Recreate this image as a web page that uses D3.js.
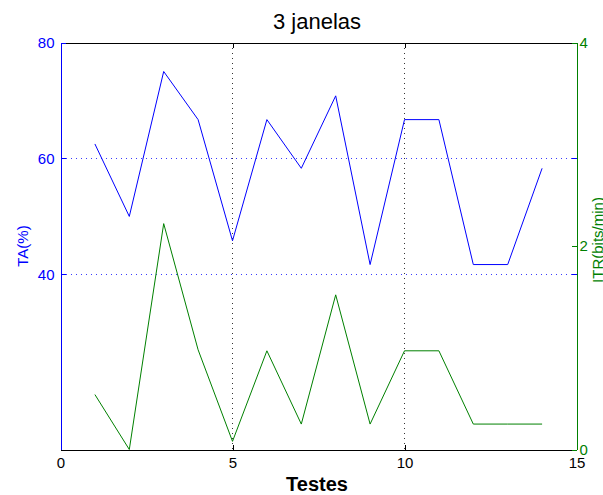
<!DOCTYPE html>
<html>
<head>
<meta charset="utf-8">
<script src="https://cdn.jsdelivr.net/npm/d3@7"></script>
<style>
  body { margin: 0; background: #fff; }
  svg { display: block; font-family: "Liberation Sans", Arial, sans-serif; }
</style>
</head>
<body>
<main></main>
<script>
// Data
var testes = [1, 2, 3, 4, 5, 6, 7, 8, 9, 10, 11, 12, 13, 14];
var ta = [62.5, 50, 75, 66.7, 45.8, 66.7, 58.3, 70.8, 41.7, 66.7, 66.7, 41.7, 41.7, 58.3];
var itr = [0.54, 0, 2.22, 0.98, 0.08, 0.97, 0.25, 1.52, 0.25, 0.97, 0.97, 0.25, 0.25, 0.25];
var xTicks = [0, 5, 10, 15],
    taTicks = [40, 60, 80],
    itrTicks = [0, 2, 4];

// plot box edges (half pixels keep 1px lines crisp)
var w = 603,
    h = 495,
    boxL = 60.5, boxR = 576.5,
    boxT = 42.5, boxB = 449.5,
    blue = "#0000ff",
    green = "#008000",
    font = "Liberation Sans, Arial, sans-serif";

var svg = d3.select("main")
            .append("svg")
            .attr("width", w)
            .attr("height", h);

var x = d3.scaleLinear().domain([0, 15]).range([boxL, boxR]);
var yL = d3.scaleLinear().domain([9.8, 80]).range([boxB, boxT]);
var yR = d3.scaleLinear().domain([0, 4]).range([boxB, boxT]);

function px(v) { return Math.floor(v) + 0.5; } // snap to a pixel row/column

// dotted grid: blue from the left axis, black from x
svg.selectAll("line.hgrid")
   .data([40, 60])
   .enter()
   .append("line")
   .attr("x1", boxL).attr("x2", boxR)
   .attr("y1", function (d) { return px(yL(d)); })
   .attr("y2", function (d) { return px(yL(d)); })
   .attr("stroke", "#3a3aff")
   .attr("shape-rendering", "crispEdges")
   .attr("stroke-dasharray", "1,4");

svg.selectAll("line.vgrid")
   .data([5, 10])
   .enter()
   .append("line")
   .attr("x1", function (d) { return px(x(d) - 0.5); })
   .attr("x2", function (d) { return px(x(d) - 0.5); })
   .attr("y1", boxT).attr("y2", boxB)
   .attr("stroke", "#333")
   .attr("shape-rendering", "crispEdges")
   .attr("stroke-dasharray", "1,4");

// the two series
var lineTA = d3.line()
               .x(function (d, i) { return x(testes[i]); })
               .y(function (d) { return yL(d); });
var lineITR = d3.line()
                .x(function (d, i) { return x(testes[i]); })
                .y(function (d) { return yR(d); });

svg.append("path")
   .datum(ta)
   .attr("d", lineTA)
   .attr("fill", "none")
   .attr("stroke", blue)
   .attr("stroke-width", 1);

svg.append("path")
   .datum(itr)
   .attr("d", lineITR)
   .attr("fill", "none")
   .attr("stroke", green)
   .attr("stroke-width", 1);

// axes, ticks pointing inward like matlab
var fmt = d3.format("d");
var axBottom = svg.append("g")
   .attr("transform", "translate(0," + boxB + ")")
   .call(d3.axisBottom(x).tickValues(xTicks).tickFormat(fmt).tickSize(-5).tickSizeOuter(0).tickPadding(8));
var axTop = svg.append("g")
   .attr("transform", "translate(0," + boxT + ")")
   .call(d3.axisTop(x).tickValues(xTicks).tickSize(-5).tickSizeOuter(0).tickFormat(""));
var axLeft = svg.append("g")
   .attr("transform", "translate(" + boxL + ",0)")
   .call(d3.axisLeft(yL).tickValues(taTicks).tickFormat(fmt).tickSize(-5).tickSizeOuter(0).tickPadding(6));
var axLeftMirror = svg.append("g")
   .attr("transform", "translate(" + boxR + ",0)")
   .call(d3.axisRight(yL).tickValues(taTicks).tickSize(-5).tickSizeOuter(0).tickFormat(""));
var axRight = svg.append("g")
   .attr("transform", "translate(" + boxR + ",0)")
   .call(d3.axisRight(yR).tickValues(itrTicks).tickFormat(fmt).tickSize(-5).tickSizeOuter(0).tickPadding(3));

[axBottom, axTop].forEach(function (g) {
  g.selectAll("path, line").attr("stroke", "#000").attr("shape-rendering", "crispEdges");
  g.selectAll("text").attr("fill", "#000").attr("font-size", "15px").attr("font-family", font);
});
axLeft.selectAll("path, line").attr("stroke", blue).attr("shape-rendering", "crispEdges");
axLeft.selectAll("text").attr("fill", blue).attr("font-size", "15px").attr("font-family", font);
axLeftMirror.select("path").remove();
axLeftMirror.selectAll("line").attr("stroke", blue).attr("shape-rendering", "crispEdges");
axRight.selectAll("path, line").attr("stroke", green).attr("shape-rendering", "crispEdges");
axRight.selectAll("text").attr("fill", green).attr("font-size", "15px").attr("font-family", font);

// titles
svg.append("text")
   .text("3 janelas")
   .attr("x", 317).attr("y", 29)
   .attr("text-anchor", "middle")
   .attr("font-size", "22px")
   .attr("fill", "#000");

svg.append("text")
   .text("Testes")
   .attr("x", 317).attr("y", 491)
   .attr("text-anchor", "middle")
   .attr("font-size", "20px")
   .attr("font-weight", "bold")
   .attr("fill", "#000");

svg.append("text")
   .text("TA(%)")
   .attr("transform", "translate(28,246) rotate(-90)")
   .attr("text-anchor", "middle")
   .attr("font-size", "15px")
   .attr("fill", blue);

svg.append("text")
   .text("ITR(bits/min)")
   .attr("transform", "translate(603,240) rotate(-90)")
   .attr("text-anchor", "middle")
   .attr("font-size", "15px")
   .attr("fill", green);
</script>
</body>
</html>
